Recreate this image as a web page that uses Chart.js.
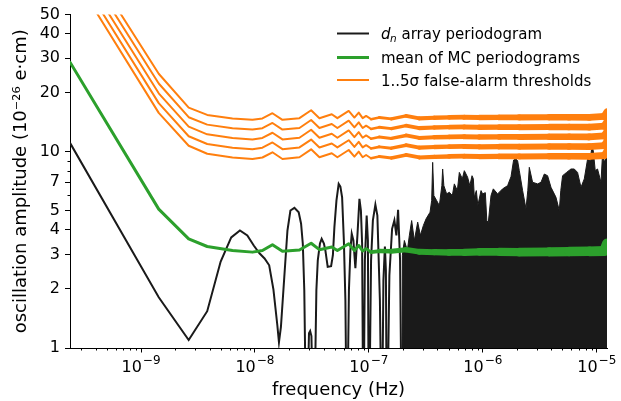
<!DOCTYPE html>
<html>
<head>
<meta charset="utf-8">
<title>Periodogram vs false-alarm thresholds</title>
<script src="https://cdn.jsdelivr.net/npm/chart.js@4.4.1/dist/chart.umd.min.js"></script>
<style>
  html, body { margin: 0; padding: 0; background: #fff; }
  #wrap { width: 621px; height: 401px; }
</style>
</head>
<body>
<div id="wrap"><canvas id="chart" width="621" height="401"></canvas></div>
<script>
/* =============================
   Data
============================== */

// d_n periodogram, low-frequency part where single lobes are visible (Hz, amplitude)
const periodFreq = [
  2.38e-10, 1.43e-9, 2.62e-9, 3.81e-9, 5.0e-9, 6.19e-9, 7.38e-9, 8.57e-9, 9.76e-9, 1.095e-8,
  1.214e-8, 1.333e-8, 1.452e-8, 1.571e-8, 1.624e-8, 1.69e-8, 1.809e-8, 1.928e-8, 2.047e-8, 2.22e-8,
  2.42e-8, 2.54e-8, 2.63e-8, 2.71e-8, 2.83e-8, 2.98e-8, 3.05e-8, 3.13e-8, 3.29e-8, 3.46e-8,
  3.56e-8, 3.72e-8, 3.85e-8, 4.03e-8, 4.15e-8, 4.35e-8, 4.66e-8, 4.83e-8, 4.98e-8, 5.19e-8,
  5.43e-8, 5.62e-8, 5.82e-8, 6.03e-8, 6.22e-8, 6.41e-8, 6.68e-8, 6.88e-8, 7.07e-8, 7.31e-8,
  7.61e-8, 7.93e-8, 8.26e-8, 8.51e-8, 8.72e-8, 8.95e-8, 9.22e-8, 9.56e-8, 9.80e-8, 1.0e-7,
  1.045e-7, 1.084e-7, 1.14e-7, 1.187e-7, 1.249e-7, 1.30e-7, 1.341e-7, 1.382e-7, 1.41e-7, 1.439e-7,
  1.513e-7, 1.598e-7, 1.674e-7, 1.743e-7, 1.804e-7, 1.878e-7, 1.948e-7, 2.05e-7
];
const periodAmp = [
  11.1, 1.815, 1.098, 1.54, 2.76, 3.66, 3.97, 3.75, 3.33, 3.04,
  2.86, 2.64, 1.99, 1.31, 1.07, 1.28, 2.30, 3.97, 5.02, 5.18,
  4.92, 4.30, 3.40, 1.97, 0.3, 1.19, 1.22, 1.15, 0.3, 1.97,
  2.80, 3.41, 3.60, 3.41, 3.14, 2.59, 2.61, 2.97, 4.13, 5.64,
  6.86, 6.64, 5.86, 3.53, 1.75, 0.3, 1.97, 3.14, 3.82, 3.53,
  2.55, 3.75, 5.75, 5.02, 3.40, 0.3, 2.80, 4.73, 3.53, 0.3,
  2.80, 4.47, 5.38, 4.73, 1.75, 0.3, 2.21, 3.29, 2.49, 0.3,
  2.35, 4.05, 4.47, 3.75, 5.06, 2.80, 0.3, 3.33
];

// d_n periodogram, dense high-frequency part: upper envelope of the black mass
const denseFreq = [
  1.955e-7, 1.967e-7, 2.048e-7, 2.176e-7, 2.266e-7, 2.374e-7, 2.507e-7, 2.681e-7, 2.831e-7, 3.007e-7, 3.176e-7,
  3.442e-7, 3.556e-7, 3.628e-7, 3.717e-7, 3.933e-7, 4.153e-7, 4.369e-7, 4.44e-7, 4.549e-7, 4.814e-7,
  5.083e-7, 5.401e-7, 5.623e-7, 5.974e-7, 6.221e-7, 6.609e-7, 6.882e-7, 7.357e-7, 7.691e-7, 8.04e-7,
  8.254e-7, 8.42e-7, 8.77e-7, 9.04e-7, 9.643e-7, 9.959e-7, 1.052e-6, 1.084e-6, 1.117e-6, 1.18e-6,
  1.236e-6, 1.348e-6, 1.395e-6, 1.492e-6, 1.65e-6, 1.768e-6, 1.863e-6, 1.955e-6, 2.02e-6, 2.09e-6,
  2.234e-6, 2.393e-6, 2.481e-6, 2.558e-6, 2.734e-6, 3.025e-6, 3.24e-6, 3.464e-6, 3.702e-6, 3.965e-6,
  4.386e-6, 4.69e-6, 4.834e-6, 5.012e-6, 5.434e-6, 5.938e-6, 6.346e-6, 6.784e-6, 7.269e-6, 7.77e-6,
  8.307e-6, 8.77e-6, 9.077e-6, 9.318e-6, 9.701e-6, 1.016e-5, 1.089e-5, 1.124e-5, 1.164e-5, 1.23e-5
];
const denseAmp = [
  0.5, 2.97, 3.53, 3.14, 3.75, 4.46, 3.53, 4.38, 3.75, 4.21, 4.55,
  4.92, 5.64, 8.83, 5.98, 5.64, 5.32, 6.72, 8.17, 6.72, 6.10,
  6.22, 5.98, 6.86, 6.34, 7.85, 7.29, 8.01, 7.41, 6.72, 7.55,
  7.29, 5.86, 6.34, 5.32, 6.34, 6.10, 6.19, 4.46, 4.36, 5.98,
  6.47, 6.10, 6.22, 6.47, 6.72, 7.47, 9.08, 9.18, 9.0, 8.01,
  6.34, 5.12, 6.34, 8.33, 6.99, 6.86, 6.99, 7.70, 7.55, 6.59,
  5.86, 5.02, 6.34, 7.55, 7.85, 8.17, 8.17, 7.85, 6.59, 7.27,
  9.18, 9.0, 10.73, 10.12, 8.01, 8.17, 6.99, 9.73, 8.83, 9.73
];

// Monte Carlo mean and 1..5 sigma thresholds share one frequency list
const smoothFreq = [
  2.38e-10, 1.43e-9, 2.62e-9, 3.81e-9, 6.35e-9, 9.51e-9, 1.163e-8, 1.424e-8, 1.743e-8, 2.457e-8,
  3.112e-8, 3.68e-8, 4.72e-8, 5.29e-8, 6.65e-8, 7.46e-8, 8.14e-8, 8.82e-8, 9.45e-8, 1.045e-7,
  1.236e-7, 1.575e-7, 2.12e-7, 2.77e-7, 3.755e-7, 5.08e-7, 6.88e-7, 9.32e-7, 1.395e-6, 2.09e-6,
  3.83e-6, 5.74e-6, 8.6e-6, 1.163e-5, 1.23e-5
];
const meanAmp = [
  28.6, 5.1, 3.60, 3.29, 3.14, 3.08, 3.14, 3.36, 3.11, 3.16,
  3.42, 3.17, 3.27, 3.14, 3.40, 3.14, 3.33, 3.12, 3.21, 3.08,
  3.12, 3.11, 3.17, 3.09, 3.08, 3.07, 3.07, 3.09, 3.09, 3.08,
  3.09, 3.10, 3.11, 3.12, 3.41
];
const sigma5 = [
  128.4, 24.97, 16.78, 15.41, 14.79, 14.54, 14.79, 15.72, 14.54, 14.83,
  16.28, 14.83, 15.54, 14.83, 16.15, 14.94, 15.83, 14.83, 15.23, 14.66,
  14.94, 14.71, 15.23, 14.79, 14.9, 14.97, 15.0, 14.95, 14.97, 14.97,
  15.0, 15.0, 14.97, 15.14, 15.96
];
const sigma4 = [
  115.7, 22.27, 15.0, 13.75, 13.19, 12.97, 13.19, 14.02, 12.97, 13.22,
  14.52, 13.22, 13.86, 13.22, 14.40, 13.32, 14.12, 13.22, 13.58, 13.07,
  13.32, 13.12, 13.58, 13.19, 13.29, 13.35, 13.38, 13.33, 13.35, 13.35,
  13.38, 13.38, 13.35, 13.50, 14.23
];
const sigma3 = [
  104.3, 19.85, 13.42, 12.27, 11.76, 11.56, 11.76, 12.50, 11.56, 11.79,
  12.95, 11.79, 12.36, 11.79, 12.84, 11.88, 12.59, 11.79, 12.11, 11.66,
  11.88, 11.70, 12.11, 11.76, 11.85, 11.90, 11.93, 11.89, 11.90, 11.90,
  11.93, 11.93, 11.90, 12.04, 12.69
];
const sigma2 = [
  93.9, 17.69, 12.0, 10.95, 10.49, 10.31, 10.49, 11.15, 10.31, 10.52,
  11.54, 10.52, 11.02, 10.52, 11.45, 10.59, 11.23, 10.52, 10.80, 10.40,
  10.59, 10.43, 10.80, 10.49, 10.57, 10.62, 10.64, 10.60, 10.62, 10.62,
  10.64, 10.64, 10.62, 10.74, 11.32
];
const sigma1 = [
  84.6, 15.78, 10.73, 9.77, 9.35, 9.19, 9.35, 9.94, 9.19, 9.38,
  10.29, 9.38, 9.83, 9.38, 10.21, 9.45, 10.01, 9.38, 9.63, 9.27,
  9.45, 9.30, 9.63, 9.35, 9.42, 9.47, 9.49, 9.45, 9.47, 9.47,
  9.49, 9.49, 9.47, 9.57, 10.09
];

const seriesLabels = ["d_n array periodogram", "mean of MC periodograms", "1..5σ false-alarm thresholds"];

const xTickValues = [1e-9, 1e-8, 1e-7, 1e-6, 1e-5];
const xTickBase = "10";
const xTickExp = ["\u22129", "\u22128", "\u22127", "\u22126", "\u22125"];
const yTickValues = [1, 2, 3, 4, 5, 7, 10, 20, 30, 40, 50];
const yTickLabels = ["1", "2", "3", "4", "5", "7", "10", "20", "30", "40", "50"];
const yMinorValues = [6, 8, 9];

const X_MIN = 2.38e-10, X_MAX = 1.23e-5;
const Y_MIN = 1, Y_MAX = 50;

/* =============================
   Style
============================== */

const BLACK = "#1a1a1a";
const GREEN = "#2ca02c";
const ORANGE = "#ff7f0e";
const FONT = "DejaVu Sans";

Chart.defaults.font.family = FONT;
Chart.defaults.color = "#000";

const pts = (xs, ys) => xs.map((x, i) => ({ x, y: ys[i] }));

// minor x ticks: 2..9 times every decade inside the range
const xMinorValues = [];
for (const d of [1e-10, 1e-9, 1e-8, 1e-7, 1e-6, 1e-5]) {
  for (let m = 2; m <= 9; m++) {
    const v = m * d;
    if (v > X_MIN && v < X_MAX) xMinorValues.push(v);
  }
}

// the MC curves turn into a noisy band at high frequency: draw it wider there
function bandWidth(base, top) {
  const lo = Math.log10(1e-7), hi = Math.log10(X_MAX);
  return (ctx) => {
    const f = Math.sqrt(smoothFreq[ctx.p0DataIndex] * smoothFreq[ctx.p1DataIndex]);
    const t = Math.min(1, Math.max(0, (Math.log10(f) - lo) / (hi - lo)));
    return base + (top - base) * Math.pow(t, 0.6);
  };
}

function orangeSet(values) {
  return {
    data: pts(smoothFreq, values),
    borderColor: ORANGE,
    borderWidth: 2,
    borderCapStyle: "round",
    borderJoinStyle: "round",
    pointRadius: 0,
    fill: false,
    order: 1,
    segment: { borderWidth: bandWidth(2, 7) }
  };
}

/* =============================
   Plugins
============================== */

const axisExtras = {
  id: "axisExtras",
  afterDraw(chart) {
    const { ctx, chartArea, scales } = chart;
    ctx.save();

    // minor ticks
    ctx.strokeStyle = "#000";
    ctx.lineWidth = 1;
    ctx.beginPath();
    for (const v of xMinorValues) {
      const px = Math.round(scales.x.getPixelForValue(v)) + 0.5;
      ctx.moveTo(px, chartArea.bottom);
      ctx.lineTo(px, chartArea.bottom + 2.5);
    }
    for (const v of yMinorValues) {
      const py = Math.round(scales.y.getPixelForValue(v)) + 0.5;
      ctx.moveTo(chartArea.left, py);
      ctx.lineTo(chartArea.left - 2.5, py);
    }
    ctx.stroke();

    // x tick labels as 10 with a raised exponent
    ctx.fillStyle = "#000";
    ctx.textBaseline = "alphabetic";
    ctx.textAlign = "left";
    const baseY = chartArea.bottom + 24;
    xTickValues.forEach((v, i) => {
      const px = scales.x.getPixelForValue(v);
      ctx.font = `16px ${FONT}`;
      const wBase = ctx.measureText(xTickBase).width;
      ctx.font = `12px ${FONT}`;
      const wExp = ctx.measureText(xTickExp[i]).width;
      const x0 = px - (wBase + wExp + 1) / 2;
      ctx.font = `16px ${FONT}`;
      ctx.fillText(xTickBase, x0, baseY);
      ctx.font = `12px ${FONT}`;
      ctx.fillText(xTickExp[i], x0 + wBase + 1, baseY - 8);
    });
    ctx.restore();
  }
};

const insideLegend = {
  id: "insideLegend",
  afterDraw(chart) {
    const ctx = chart.ctx;
    const rows = [
      { color: BLACK, width: 2, y: 33.5 },
      { color: GREEN, width: 3, y: 57.5 },
      { color: ORANGE, width: 2, y: 80 }
    ];
    ctx.save();
    rows.forEach((r, i) => {
      ctx.strokeStyle = r.color;
      ctx.lineWidth = r.width;
      ctx.beginPath();
      ctx.moveTo(337, r.y);
      ctx.lineTo(369, r.y);
      ctx.stroke();

      ctx.fillStyle = "#000";
      ctx.textBaseline = "alphabetic";
      ctx.textAlign = "left";
      const base = r.y + 5.5;
      let x = 381;
      let text = seriesLabels[i];
      if (text.startsWith("d_n")) {
        ctx.font = `italic 15px ${FONT}`;
        ctx.fillText("d", x, base);
        x += ctx.measureText("d").width;
        ctx.font = `italic 10.5px ${FONT}`;
        ctx.fillText("n", x - 0.5, base + 3);
        x += ctx.measureText("n").width - 0.5;
        text = text.slice(3);
      }
      ctx.font = `15px ${FONT}`;
      ctx.fillText(text, x, base);
    });
    ctx.restore();
  }
};

/* =============================
   Chart
============================== */

new Chart(document.getElementById("chart"), {
  type: "line",
  data: {
    datasets: [
      {
        data: pts(denseFreq, denseAmp),
        borderColor: BLACK,
        backgroundColor: BLACK,
        borderWidth: 1,
        pointRadius: 0,
        fill: "start",
        order: 4
      },
      {
        data: pts(periodFreq, periodAmp),
        borderColor: BLACK,
        borderWidth: 2,
        pointRadius: 0,
        fill: false,
        order: 3
      },
      {
        data: pts(smoothFreq, meanAmp),
        borderColor: GREEN,
        borderWidth: 3,
        borderCapStyle: "round",
        borderJoinStyle: "round",
        pointRadius: 0,
        fill: false,
        order: 2,
        segment: { borderWidth: bandWidth(3, 10) }
      },
      orangeSet(sigma1),
      orangeSet(sigma2),
      orangeSet(sigma3),
      orangeSet(sigma4),
      orangeSet(sigma5)
    ]
  },
  options: {
    responsive: false,
    animation: false,
    layout: { padding: { left: 0, right: 14, top: 13, bottom: 0 } },
    plugins: {
      legend: { display: false },
      tooltip: { enabled: false }
    },
    scales: {
      x: {
        type: "logarithmic",
        min: X_MIN,
        max: X_MAX,
        afterFit: (s) => { s.height = 53; },
        afterBuildTicks: (s) => { s.ticks = xTickValues.map(v => ({ value: v, major: true })); },
        ticks: { display: false, autoSkip: false, maxRotation: 0 },
        grid: { drawOnChartArea: false, drawTicks: true, tickLength: 4.5, color: "#000" },
        border: { display: true, color: "#000", width: 1 },
        title: {
          display: true,
          text: "frequency (Hz)",
          font: { size: 18 },
          color: "#000",
          padding: { top: 0, bottom: 0 }
        }
      },
      y: {
        type: "logarithmic",
        min: Y_MIN,
        max: Y_MAX,
        afterFit: (s) => { s.width = 70; },
        afterBuildTicks: (s) => { s.ticks = yTickValues.map(v => ({ value: v, major: true })); },
        ticks: {
          autoSkip: false,
          padding: 5,
          font: { size: 16 },
          color: "#000",
          callback: (v) => yTickLabels[yTickValues.indexOf(v)]
        },
        grid: { drawOnChartArea: false, drawTicks: true, tickLength: 5, color: "#000" },
        border: { display: true, color: "#000", width: 1 },
        title: {
          display: true,
          text: "oscillation amplitude (10⁻²⁶ e·cm)",
          font: { size: 18 },
          color: "#000",
          padding: { top: 11, bottom: 0 }
        }
      }
    }
  },
  plugins: [axisExtras, insideLegend]
});
</script>
</body>
</html>
